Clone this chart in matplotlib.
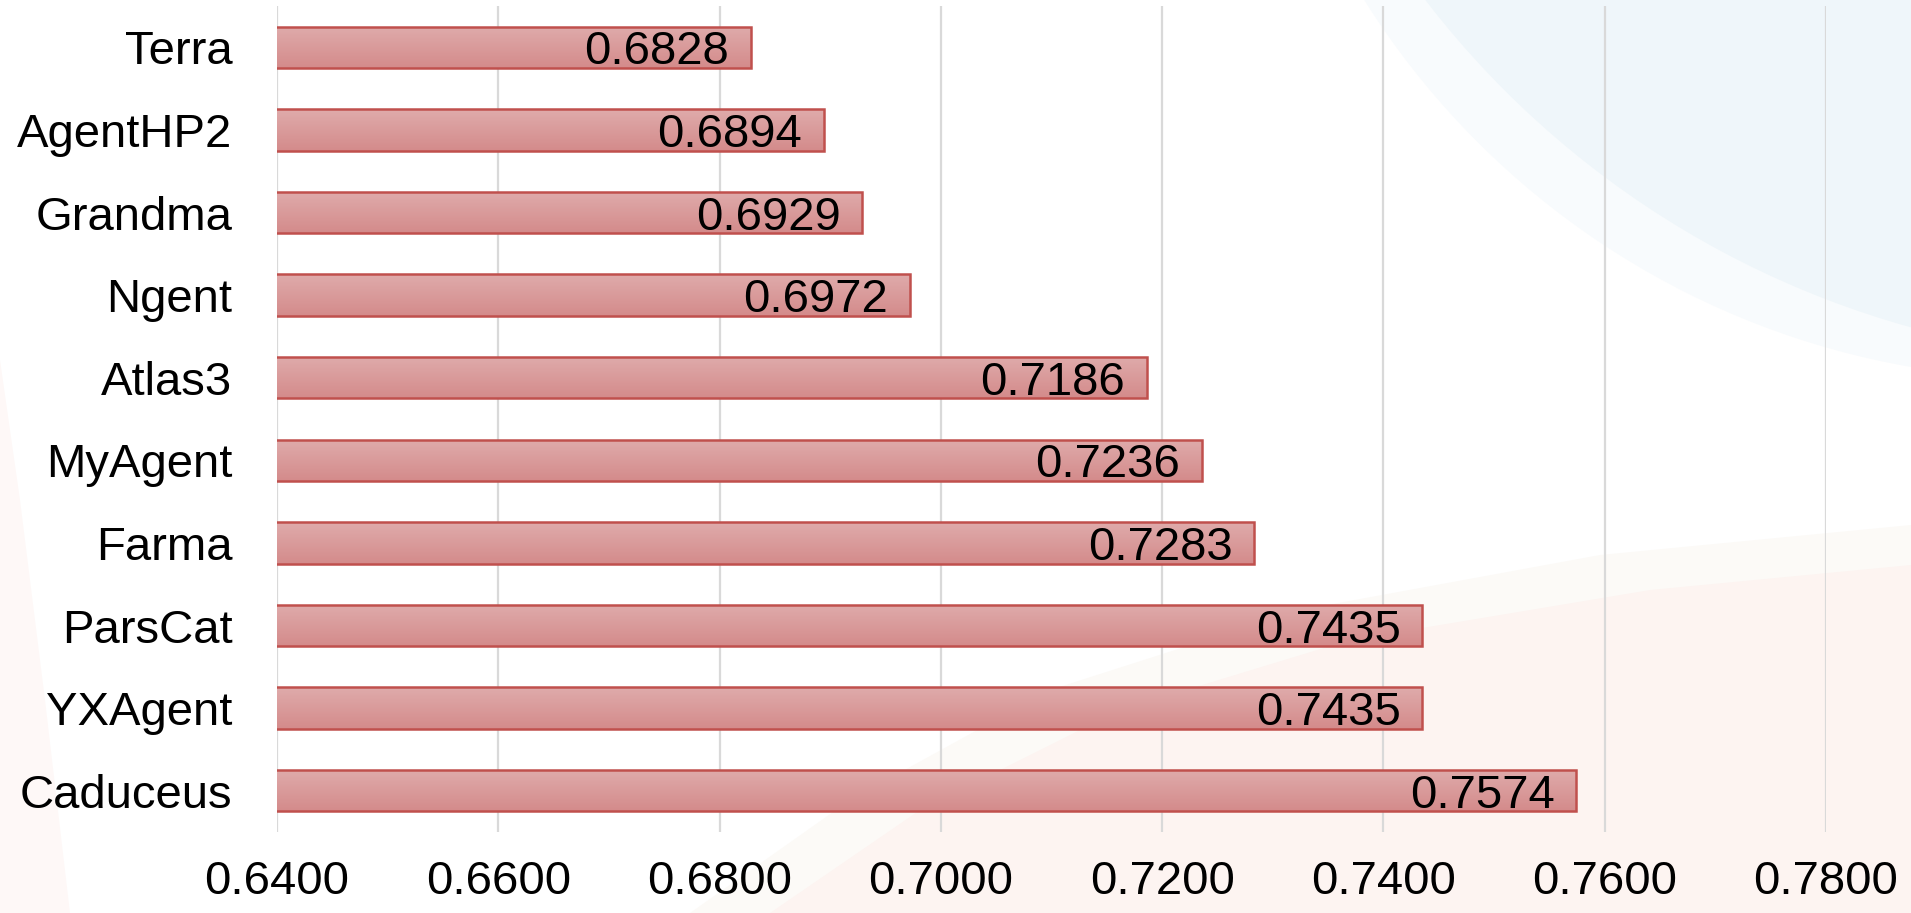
import numpy as np
import matplotlib
matplotlib.use("Agg")
import matplotlib.pyplot as plt
from matplotlib.patches import Circle, Polygon
from matplotlib.colors import LinearSegmentedColormap

categories = ["Terra", "AgentHP2", "Grandma", "Ngent", "Atlas3",
              "MyAgent", "Farma", "ParsCat", "YXAgent", "Caduceus"]
values = [0.6828, 0.6894, 0.6929, 0.6972, 0.7186,
          0.7236, 0.7283, 0.7435, 0.7435, 0.7574]
xticks = [0.64, 0.66, 0.68, 0.70, 0.72, 0.74, 0.76, 0.78]
xticklabels = ["0.6400", "0.6600", "0.6800", "0.7000",
               "0.7200", "0.7400", "0.7600", "0.7800"]

plt.rcParams['font.family'] = ['Liberation Sans', 'DejaVu Sans']

W, H = 1911, 913
fig = plt.figure(figsize=(W / 100, H / 100), dpi=100)
fig.patch.set_facecolor("white")

# decorative background
bg = fig.add_axes([0, 0, 1, 1], zorder=0)
bg.set_xlim(0, W)
bg.set_ylim(H, 0)
bg.axis("off")
bg.add_patch(Circle((2050, -431), 810, facecolor="#F8FBFD", edgecolor="none"))
bg.add_patch(Circle((2158, -563), 924, facecolor="#EFF6FA", edgecolor="none"))
bg.add_patch(Polygon([(690, 913), (850, 800), (1050, 690), (1300, 610), (1600, 555),
                      (1911, 525), (1911, 913)], closed=True,
                     facecolor="#FCFAF7", edgecolor="none"))
bg.add_patch(Polygon([(770, 913), (920, 810), (1120, 710), (1350, 640), (1650, 590),
                      (1911, 565), (1911, 913)], closed=True,
                     facecolor="#FDF4F1", edgecolor="none"))
bg.add_patch(Polygon([(0, 360), (20, 500), (45, 700), (70, 913), (0, 913)], closed=True,
                     facecolor="#FEF8F7", edgecolor="none"))

ax = fig.add_axes([277 / W, 1 - 832 / H, (1826 - 277) / W, (832 - 6) / H], zorder=1)
ax.patch.set_alpha(0)

y = np.arange(len(categories))
bars = ax.barh(y, values, left=0, height=0.5, color="none",
               edgecolor="#C0504D", linewidth=1.8, zorder=3)

cmap = LinearSegmentedColormap.from_list("g", ["#DFABAB", "#D48B8B"])
grad = np.linspace(0, 1, 64).reshape(-1, 1)
for b in bars:
    x0, y0 = 0.64, b.get_y()
    x1, y1 = b.get_width(), b.get_y() + b.get_height()
    im = ax.imshow(grad, cmap=cmap, aspect="auto", extent=(x0, x1, y1, y0),
                   origin="upper", zorder=2, interpolation="bilinear")
    im.set_clip_path(b)

for yi, v in zip(y, values):
    ax.annotate(f"{v:.4f}", xy=(v, yi), xytext=(-15.5, 0), textcoords="offset points",
                ha="right", va="center_baseline", fontsize=34, color="black", zorder=4)

ax.set_xlim(0.64, 0.78)
ax.set_ylim(len(categories) - 0.5, -0.5)
ax.set_xticks(xticks)
ax.set_xticklabels(xticklabels, fontsize=34)
ax.set_yticks(y)
ax.set_yticklabels(categories, fontsize=34)
ax.tick_params(axis="x", length=0, pad=20)
ax.tick_params(axis="y", length=0, pad=32)
ax.grid(axis="x", color="#D9D9D9", linewidth=1.6, zorder=1)
ax.set_axisbelow(True)
for s in ax.spines.values():
    s.set_visible(False)

fig.savefig("out.png", dpi=100)
